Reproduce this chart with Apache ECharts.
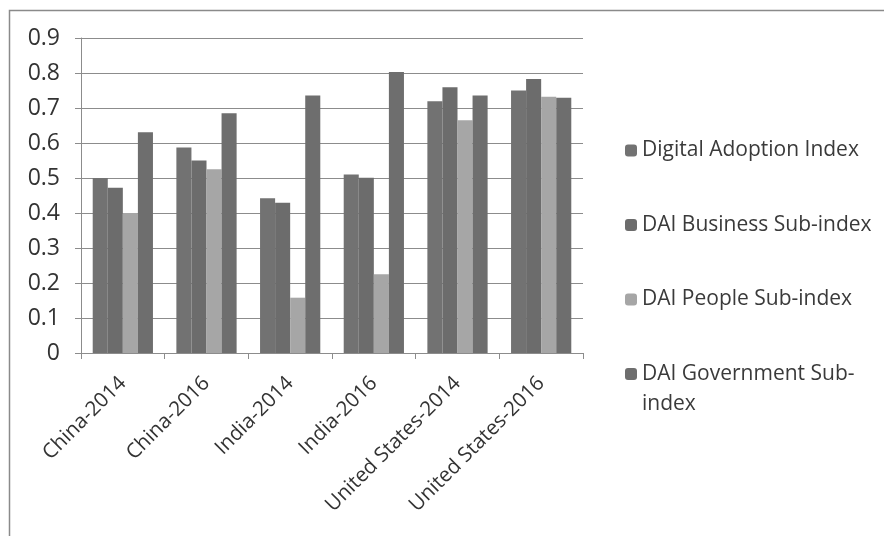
<!DOCTYPE html>
<html>
<head>
<meta charset="utf-8">
<script src="https://cdn.jsdelivr.net/npm/echarts@6/dist/echarts.min.js"></script>
<style>
  html, body { margin: 0; padding: 0; background: #fff; }
  #chart { width: 884px; height: 536px; }
</style>
</head>
<body>
<div id="chart"></div>
<script>
const categories = ['China-2014', 'China-2016', 'India-2014', 'India-2016', 'United States-2014', 'United States-2016'];
const seriesNames = ['Digital Adoption Index', 'DAI Business Sub-index', 'DAI People Sub-index', 'DAI Government Sub-index'];
const daiValues = [0.50, 0.587, 0.442, 0.51, 0.719, 0.75];
const businessValues = [0.472, 0.55, 0.429, 0.501, 0.759, 0.783];
const peopleValues = [0.40, 0.525, 0.158, 0.225, 0.665, 0.732];
const governmentValues = [0.631, 0.685, 0.736, 0.803, 0.736, 0.729];
const colors = ['#727272', '#6c6c6c', '#a6a6a6', '#6e6e6e'];

const font = '"Open Sans", sans-serif';
const chart = echarts.init(document.getElementById('chart'));

const allValues = [daiValues, businessValues, peopleValues, governmentValues];

chart.setOption({
    animation: false,
    color: colors,
    graphic: [{
        type: 'rect',
        shape: { x: 9.5, y: 10.5, width: 900, height: 600 },
        style: { fill: 'none', stroke: '#8a8a8a', lineWidth: 1.5 },
        silent: true
    }, {
        // wrapped tail of the last legend name
        type: 'text',
        left: 642,
        top: 394,
        style: { text: 'index', font: '21px "Open Sans", sans-serif', fill: '#3a3a3a' },
        silent: true
    }],
    grid: { left: 81, right: 301, top: 38, bottom: 183 },
    legend: {
        orient: 'vertical',
        left: 620,
        top: 135,
        itemWidth: 12,
        itemHeight: 12,
        itemGap: 53.5,
        data: seriesNames,
        formatter: name => name === 'DAI Government Sub-index' ? 'DAI Government Sub-' : name,
        textStyle: { fontFamily: font, fontSize: 21, color: '#3a3a3a' }
    },
    xAxis: {
        type: 'category',
        data: categories,
        axisLine: { lineStyle: { color: '#8c8c8c', width: 1 } },
        axisTick: { show: true, length: 6, lineStyle: { color: '#8c8c8c' } },
        axisLabel: { rotate: 45, fontFamily: font, fontSize: 20.5, color: '#333', margin: 27, interval: 0 }
    },
    yAxis: {
        type: 'value',
        min: 0,
        max: 0.9,
        interval: 0.1,
        axisLine: { show: true, lineStyle: { color: '#8c8c8c' } },
        axisTick: { show: true, length: 6, lineStyle: { color: '#8c8c8c' } },
        splitLine: { lineStyle: { color: '#8c8c8c', width: 1 } },
        axisLabel: {
            fontFamily: font, fontSize: 23, color: '#333', margin: 21,
            formatter: v => (Math.round(v * 10) / 10).toString()
        }
    },
    series: seriesNames.map((name, i) => ({
        name: name,
        type: 'bar',
        data: allValues[i],
        barGap: '0%',
        barCategoryGap: '28%'
    }))
});
</script>
</body>
</html>
